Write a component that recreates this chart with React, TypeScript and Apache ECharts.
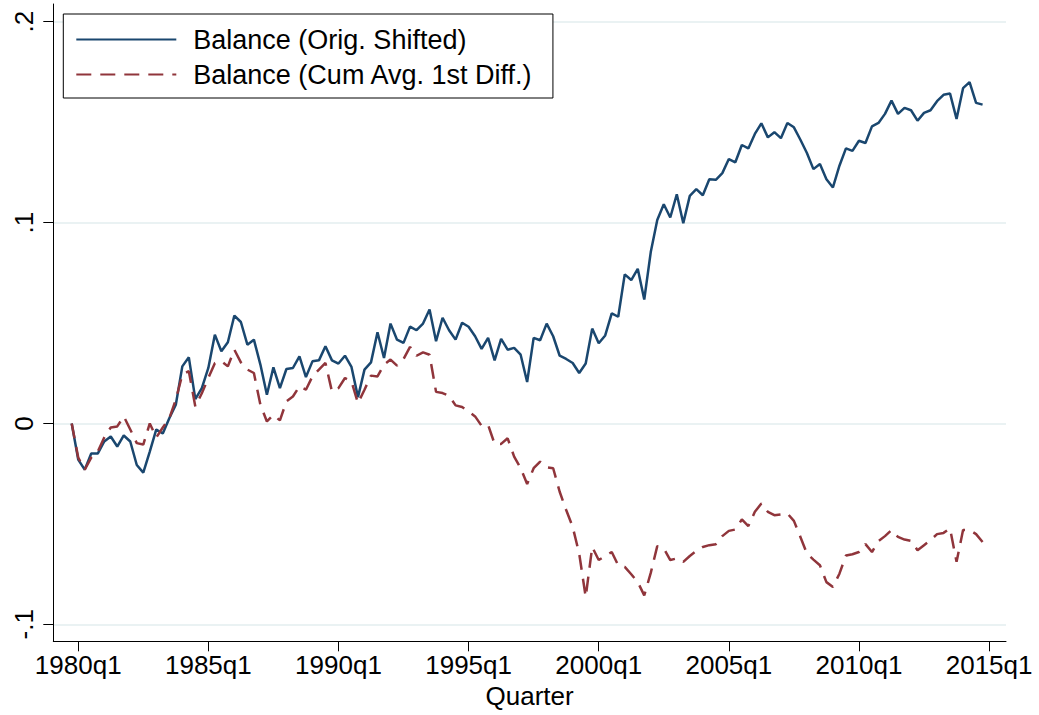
import React, { useEffect, useRef } from "react";
import * as echarts from "echarts";

// Stata %tq quarter index of first observation (1979q4 = 79)
const startQuarter = 79;

const xTickValues = [80, 100, 120, 140, 160, 180, 200, 220];
const xTickLabels = ["1980q1", "1985q1", "1990q1", "1995q1", "2000q1", "2005q1", "2010q1", "2015q1"];
const yTickValues = [-0.1, 0, 0.1, 0.2];
const yTickLabels = ["-.1", "0", ".1", ".2"];

const seriesNames = ["Balance (Orig. Shifted)", "Balance (Cum Avg. 1st Diff.)"];

const origShifted = [
  0.0, -0.018, -0.023, -0.015, -0.015, -0.009, -0.0065, -0.0115, -0.006, -0.009,
  -0.0207, -0.0245, -0.014, -0.003, -0.005, 0.0026, 0.0093, 0.0284, 0.0329, 0.0121,
  0.0176, 0.0276, 0.0442, 0.0359, 0.0404, 0.0537, 0.0505, 0.0392, 0.0417, 0.0293,
  0.0143, 0.0279, 0.0176, 0.0271, 0.0276, 0.0334, 0.0231, 0.0309, 0.0314, 0.0384,
  0.0314, 0.0298, 0.0337, 0.0281, 0.0131, 0.0268, 0.0304, 0.0454, 0.0326, 0.0497,
  0.0417, 0.0401, 0.0482, 0.0464, 0.0497, 0.0567, 0.0409, 0.0526, 0.0464, 0.0417,
  0.0501, 0.0481, 0.0434, 0.0371, 0.0426, 0.0314, 0.0421, 0.0367, 0.0376, 0.0342,
  0.0206, 0.0426, 0.0414, 0.0497, 0.0434, 0.0337, 0.0321, 0.0301, 0.0251, 0.0298,
  0.0472, 0.0399, 0.0438, 0.0548, 0.0531, 0.0742, 0.0714, 0.077, 0.0617, 0.0853,
  0.1013, 0.1091, 0.1025, 0.1141, 0.0997, 0.1133, 0.1166, 0.1136, 0.1216, 0.1213,
  0.1246, 0.1316, 0.13, 0.1386, 0.1369, 0.1441, 0.1494, 0.1424, 0.145, 0.142,
  0.1496, 0.1474, 0.1412, 0.1346, 0.1266, 0.1291, 0.1216, 0.1175, 0.1283, 0.1369,
  0.1357, 0.1407, 0.1396, 0.1479, 0.1496, 0.1541, 0.1607, 0.1541, 0.1571, 0.1559,
  0.1507, 0.1546, 0.1559, 0.1604, 0.1636, 0.1642, 0.1516, 0.1669, 0.1699, 0.1596,
  0.1587,
];

const cumAvgDiff = [
  0.0, -0.017, -0.023, -0.017, -0.014, -0.007, -0.002, -0.0015, 0.0035, -0.003,
  -0.0098, -0.0105, 0.0, -0.007, -0.002, 0.0026, 0.0118, 0.0243, 0.026, 0.0084,
  0.015, 0.0226, 0.03, 0.031, 0.0284, 0.0367, 0.0304, 0.0268, 0.0251, 0.0093,
  0.001, 0.0043, 0.0015, 0.011, 0.0134, 0.0184, 0.0168, 0.0234, 0.0268, 0.0301,
  0.0159, 0.0176, 0.0226, 0.0209, 0.0101, 0.0168, 0.0238, 0.0234, 0.0293, 0.0318,
  0.0288, 0.032, 0.0381, 0.0337, 0.0354, 0.0342, 0.0157, 0.0151, 0.0138, 0.009,
  0.0082, 0.006, 0.0035, -0.0012, -0.0007, -0.0102, -0.0102, -0.0074, -0.0165, -0.0223,
  -0.0302, -0.0223, -0.019, -0.0218, -0.0223, -0.034, -0.0431, -0.0515, -0.0648, -0.0864,
  -0.0615, -0.068, -0.066, -0.064, -0.0706, -0.0714, -0.0751, -0.079, -0.0856, -0.0744,
  -0.0611, -0.0622, -0.068, -0.0672, -0.0689, -0.066, -0.0635, -0.0615, -0.0606, -0.0601,
  -0.0561, -0.0535, -0.0528, -0.0478, -0.0511, -0.044, -0.0399, -0.044, -0.0457, -0.0453,
  -0.0448, -0.0485, -0.0565, -0.0648, -0.0678, -0.0706, -0.079, -0.0814, -0.0748, -0.0657,
  -0.0651, -0.064, -0.0601, -0.064, -0.0586, -0.0561, -0.0531, -0.0565, -0.0578, -0.0585,
  -0.0631, -0.0606, -0.0581, -0.0551, -0.0545, -0.0523, -0.0689, -0.0531, -0.0531, -0.0551,
  -0.059,
];

const FONT = "'Liberation Sans', Arial, Helvetica, sans-serif";

function toPairs(values: number[]) {
  return values.map((v, i) => [startQuarter + i, v]);
}

function labelFor(values: number[], labels: string[], v: number) {
  for (let i = 0; i < values.length; i++) {
    if (Math.abs(values[i] - v) < 1e-6) return labels[i];
  }
  return "";
}

export default function App() {
  const ref = useRef<HTMLDivElement>(null);

  useEffect(() => {
    if (!ref.current) return;
    const chart = echarts.init(ref.current, undefined, { renderer: "svg" });
    chart.setOption({
      animation: false,
      backgroundColor: "#ffffff",
      textStyle: { fontFamily: FONT },
      grid: { left: 53.3, right: 33, top: 4, bottom: 73.7, containLabel: false },
      legend: {
        orient: "vertical",
        left: 63.3,
        top: 14,
        backgroundColor: "#ffffff",
        borderColor: "#000000",
        borderWidth: 1,
        borderRadius: 0,
        padding: [12, 20, 10, 12],
        itemWidth: 100,
        itemHeight: 14,
        itemGap: 8,
        itemStyle: { color: "transparent", borderWidth: 0, opacity: 0 },
        textStyle: { fontSize: 27, color: "#000000", fontFamily: FONT, padding: [0, 0, 0, 12] },
        data: seriesNames,
      },
      xAxis: {
        type: "value",
        min: 76.17,
        max: 222.6,
        name: "Quarter",
        nameLocation: "middle",
        nameGap: 40,
        nameTextStyle: { fontSize: 26, color: "#000000", fontFamily: FONT },
        axisLine: { show: true, onZero: false, lineStyle: { color: "#000000", width: 1 } },
        axisTick: { show: true, length: 10, customValues: xTickValues, lineStyle: { color: "#000000" } },
        axisLabel: {
          customValues: xTickValues,
          margin: 11,
          fontSize: 26,
          color: "#000000",
          fontFamily: FONT,
          formatter: (v: number) => labelFor(xTickValues, xTickLabels, v),
        },
        splitLine: { show: false },
      },
      yAxis: {
        type: "value",
        min: -0.10846,
        max: 0.2088,
        axisLine: { show: true, onZero: false, lineStyle: { color: "#000000", width: 1 } },
        axisTick: { show: true, length: 10, customValues: yTickValues, lineStyle: { color: "#000000" } },
        axisLabel: {
          customValues: yTickValues,
          rotate: 90,
          margin: 16,
          fontSize: 26,
          color: "#000000",
          fontFamily: FONT,
          formatter: (v: number) => labelFor(yTickValues, yTickLabels, v),
        },
        splitLine: { show: true, lineStyle: { color: "#eaf2f3", width: 2 } },
      },
      series: [
        {
          name: seriesNames[0],
          type: "line",
          data: toPairs(origShifted),
          symbol: "none",
          showSymbol: false,
          color: "#1a476f",
          lineStyle: { color: "#1a476f", width: 2.5 },
        },
        {
          name: seriesNames[1],
          type: "line",
          data: toPairs(cumAvgDiff),
          symbol: "none",
          showSymbol: false,
          color: "#90353b",
          lineStyle: { color: "#90353b", width: 2.5, type: [15, 9] },
        },
      ],
    });
    return () => chart.dispose();
  }, []);

  return (
    <div
      ref={ref}
      style={{ position: "absolute", left: 0, top: 0, width: 1039, height: 715 }}
    />
  );
}
